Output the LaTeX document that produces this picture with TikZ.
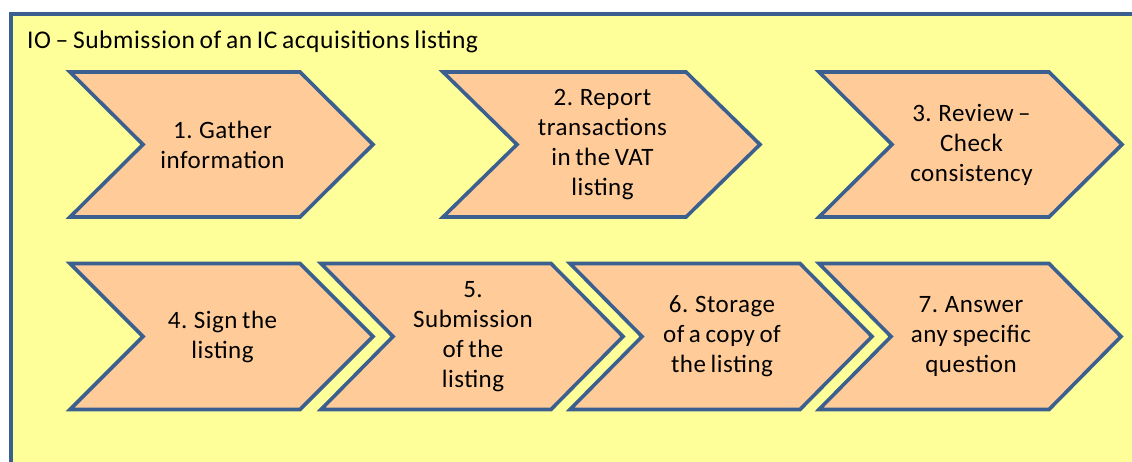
\documentclass[tikz,border=0pt]{standalone}
\usepackage{fontspec}
\setmainfont{Carlito}[LetterSpace=2,WordSpace=0.75]
\definecolor{panelfill}{RGB}{255,255,153}
\definecolor{stepfill}{RGB}{255,204,153}
\definecolor{edgeblue}{RGB}{59,95,143}
\tikzset{
  panel/.style={draw=edgeblue, line width=4pt, fill=panelfill},
  chevbody/.style={draw=edgeblue, line width=3.6pt, fill=stepfill, line join=miter},
  chevtext/.style={align=center, font=\fontsize{25}{30}\selectfont, inner sep=0pt},
  titletext/.style={anchor=base west, font=\fontsize{25.5}{30}\selectfont, inner sep=0pt}
}
% \chevstep{name}{left}{top}{width}{half height}{depth}{text}
\newcommand\chevstep[7]{%
  \draw[chevbody] (#2,#3) -- (#2+#4-#6,#3) -- (#2+#4,#3+#5) -- (#2+#4-#6,#3+2*#5)
    -- (#2,#3+2*#5) -- (#2+#6,#3+#5) -- cycle;
  \node[chevtext] (#1) at (#2+#4/2+1,#3+#5) {#7};
}
\begin{document}
\begin{tikzpicture}[x=1pt,y=-1pt]
  \useasboundingbox (0,0) rectangle (1132,461);
  \clip (0,0) rectangle (1132,461);
  % outer panel, running off the right and bottom edges
  \draw[panel] (11,13.5) rectangle (1150,480);
  \node[titletext] (title) at (27,48) {IO – Submission of an IC acquisitions listing};
  % first row
  \chevstep{s1}{70}{72}{303}{72.5}{73}{1. Gather\\information}
  \chevstep{s2}{443}{72}{317}{72.5}{74}{2. Report\\transactions\\in the VAT\\listing}
  \chevstep{s3}{819}{72}{303}{72.5}{73}{3. Review –\\Check\\consistency}
  % second row
  \chevstep{s4}{70}{263.5}{303}{73}{73}{4. Sign the\\listing}
  \chevstep{s5}{321}{263.5}{302}{73}{72}{5.\\Submission\\of the\\listing}
  \chevstep{s6}{570}{263.5}{302}{73}{72}{6. Storage\\of a copy of\\the listing}
  \chevstep{s7}{819}{263.5}{302}{73}{72}{7. Answer\\any specific\\question}
\end{tikzpicture}
\end{document}
